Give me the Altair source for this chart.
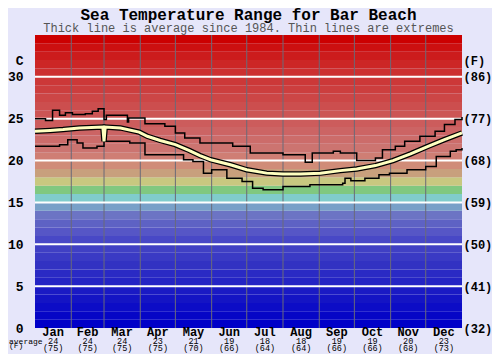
import altair as alt
import pandas as pd

# ---------------- data ----------------
band_lo = list(range(35))
band_colors = [
    "#0000c8", "#0606c6", "#0c0cc6", "#1414c4", "#1a1ac4",
    "#2424c4", "#2a2ac4", "#3232c2", "#3a3ac4", "#4040c4",
    "#4848c6", "#5656c6", "#5e62c4", "#6c74c4", "#78a0c8",
    "#80cccc", "#80c880", "#c8c880", "#c8a07d", "#d08c78",
    "#cf7e74", "#cc7470", "#cc6c6a", "#cc6464", "#cc5c5c",
    "#cc5555", "#cc4e4e", "#cc4646", "#cc3e3e", "#cc3838",
    "#cc3030", "#cc2626", "#cc1c1c", "#cc1010", "#cc0000",
]

grid_vals = [5, 10, 15, 20, 25, 30]
left_ticks = [0, 5, 10, 15, 20, 25, 30, 31.9]
month_starts = [31, 59, 90, 120, 151, 181, 212, 243, 273, 304, 334]
months = ["Jan", "Feb", "Mar", "Apr", "May", "Jun",
          "Jul", "Aug", "Sep", "Oct", "Nov", "Dec"]
month_mid = [15.5, 45, 74.5, 105, 135.5, 166, 196.5, 227.5, 258, 288.5, 319, 349.5]
avg_c = [24, 24, 24, 23, 21, 19, 18, 18, 19, 19, 20, 23]
avg_f = [75, 75, 75, 75, 70, 66, 64, 64, 66, 66, 68, 73]
row_labels = ["average", "(F)"]

avg_day = [0, 13, 24, 38, 58, 59, 60, 73, 89, 96, 107, 120, 132, 141, 150,
           167, 181, 198, 212, 227, 244, 261, 275, 291, 306, 321, 336, 350, 365]
avg_val = [23.5, 23.6, 23.7, 23.9, 24.0, 22.3, 24.0, 23.9, 23.4, 22.9, 22.4, 21.9,
           21.2, 20.6, 20.1, 19.5, 18.9, 18.5, 18.4, 18.4, 18.5, 18.8, 19.0,
           19.4, 20.0, 20.8, 21.7, 22.5, 23.3]

max_day = [0, 9, 15, 21, 26, 32, 43, 49, 54, 59, 61, 79, 80, 94, 111, 120, 128,
           141, 169, 184, 212, 231, 237, 255, 261, 275, 291, 297, 308, 316, 329,
           342, 350, 359, 365]
max_val = [25.0, 24.8, 26.0, 25.4, 25.7, 25.5, 25.6, 25.9, 26.2, 24.9, 25.4,
           24.6, 25.1, 24.4, 24.1, 23.3, 22.7, 22.1, 21.7, 20.9, 20.7, 19.8,
           20.9, 21.1, 20.9, 20.0, 20.3, 21.3, 21.7, 22.3, 22.9, 23.5, 24.3,
           24.9, 25.2]

min_day = [0, 21, 28, 36, 41, 53, 59, 81, 94, 127, 135, 144, 151, 164, 177,
           186, 195, 212, 235, 263, 265, 270, 282, 294, 303, 318, 334, 343, 355,
           360, 365]
min_val = [21.7, 21.9, 22.5, 22.1, 21.5, 21.7, 22.3, 22.1, 20.7, 20.1, 19.9,
           18.5, 18.9, 17.9, 17.5, 16.7, 16.5, 16.9, 17.1, 17.3, 17.9, 17.6,
           17.9, 18.3, 18.5, 18.9, 19.3, 20.5, 21.1, 21.3, 21.5]

# ---------------- tables ----------------
band_df = pd.DataFrame({"lo": band_lo, "hi": [v + 1 for v in band_lo], "color": band_colors})
grid_df = pd.DataFrame({"t": grid_vals})
mstart_df = pd.DataFrame({"d": month_starts})
month_df = pd.DataFrame({"mid": month_mid, "name": months,
                         "c": [str(v) for v in avg_c],
                         "f": ["(" + str(v) + ")" for v in avg_f]})
avg_df = pd.DataFrame({"d": avg_day, "v": avg_val})
max_df = pd.DataFrame({"d": max_day, "v": max_val})
min_df = pd.DataFrame({"d": min_day, "v": min_val})
row_df = pd.DataFrame({"label": row_labels, "row": [0, 1]})

FONT = "Liberation Mono"
x_scale = alt.Scale(domain=[0, 365], nice=False, zero=False)
y_scale = alt.Scale(domain=[0, 35], nice=False, zero=False)

left_axis = alt.Axis(orient="left", values=left_ticks, ticks=False, domain=False,
                     grid=False, labelFont=FONT, labelFontSize=13, labelFontWeight="bold",
                     labelColor="black", labelPadding=12, labelOverlap=False,
                     labelFlush=False, labelBound=False, title=None,
                     labelExpr="datum.value > 31 ? 'C' : datum.label")
right_axis = alt.Axis(orient="right", values=left_ticks, ticks=False, domain=False,
                      grid=False, labelFont=FONT, labelFontSize=12, labelFontWeight="bold",
                      labelColor="black", labelPadding=1, labelOverlap=False,
                      labelFlush=False, labelBound=False, title=None,
                      labelExpr="datum.value > 31 ? '(F)' : '(' + format(datum.value*9/5+32, 'd') + ')'")

bands = alt.Chart(band_df).mark_rect().encode(
    x=alt.XDatum(0, type="quantitative", scale=x_scale, axis=None),
    x2=alt.X2Datum(365),
    y=alt.Y("lo:Q", scale=y_scale, axis=left_axis),
    y2="hi:Q",
    color=alt.Color("color:N", scale=None, legend=None),
)

vgrid = alt.Chart(mstart_df).mark_rule(color="#6a6a78", strokeWidth=1).encode(
    x=alt.X("d:Q", scale=x_scale, axis=None)
)

hgrid = alt.Chart(grid_df).mark_rule(color="white", strokeWidth=2).encode(
    y=alt.Y("t:Q", scale=y_scale, axis=right_axis)
)

def line(df, **kw):
    return alt.Chart(df).mark_line(**kw).encode(
        x=alt.X("d:Q", scale=x_scale, axis=None),
        y=alt.Y("v:Q", scale=y_scale, axis=None),
    )

max_line = line(max_df, color="black", strokeWidth=1.5, interpolate="step-after")
min_line = line(min_df, color="black", strokeWidth=1.5, interpolate="step-after")
avg_out = line(avg_df, color="black", strokeWidth=5.5)
avg_in = line(avg_df, color="#ffffc0", strokeWidth=3)

def month_text(field, yv, size, weight):
    return alt.Chart(month_df).mark_text(font=FONT, fontSize=size, fontWeight=weight,
                                         color="black", baseline="middle").encode(
        x=alt.X("mid:Q", scale=x_scale, axis=None),
        y=alt.value(yv),
        text=f"{field}:N",
    )

mname = month_text("name", 296.5, 12, "bold")
mc = month_text("c", 305.5, 8.5, "normal")
mf = month_text("f", 313, 8.5, "normal")

rowlab = alt.Chart(row_df).mark_text(font=FONT, fontSize=8, color="black",
                                     baseline="middle", align="left").encode(
    x=alt.value(-26),
    y=alt.Y("row:O", scale=alt.Scale(range=[305.5, 313]), axis=None),
    text="label:N",
)

chart = alt.layer(
    bands, vgrid, hgrid, max_line, min_line, avg_out, avg_in, mname, mc, mf, rowlab
).resolve_axis(y="independent").properties(
    width=427, height=293,
    autosize="none",
    padding={"left": 27, "top": 27, "right": 30, "bottom": 26},
    background="#e6e6fa",
    title=alt.TitleParams(
        text="Sea Temperature Range for Bar Beach",
        subtitle="Thick line is average since 1984. Thin lines are extremes",
        font=FONT, fontSize=16, fontWeight="bold", color="black",
        subtitleFont=FONT, subtitleFontSize=12, subtitleColor="#555555",
        anchor="middle", offset=1, subtitlePadding=0,
    ),
).configure_view(stroke=None)

chart.save("out.html", embed_options={"renderer": "svg", "actions": False})
